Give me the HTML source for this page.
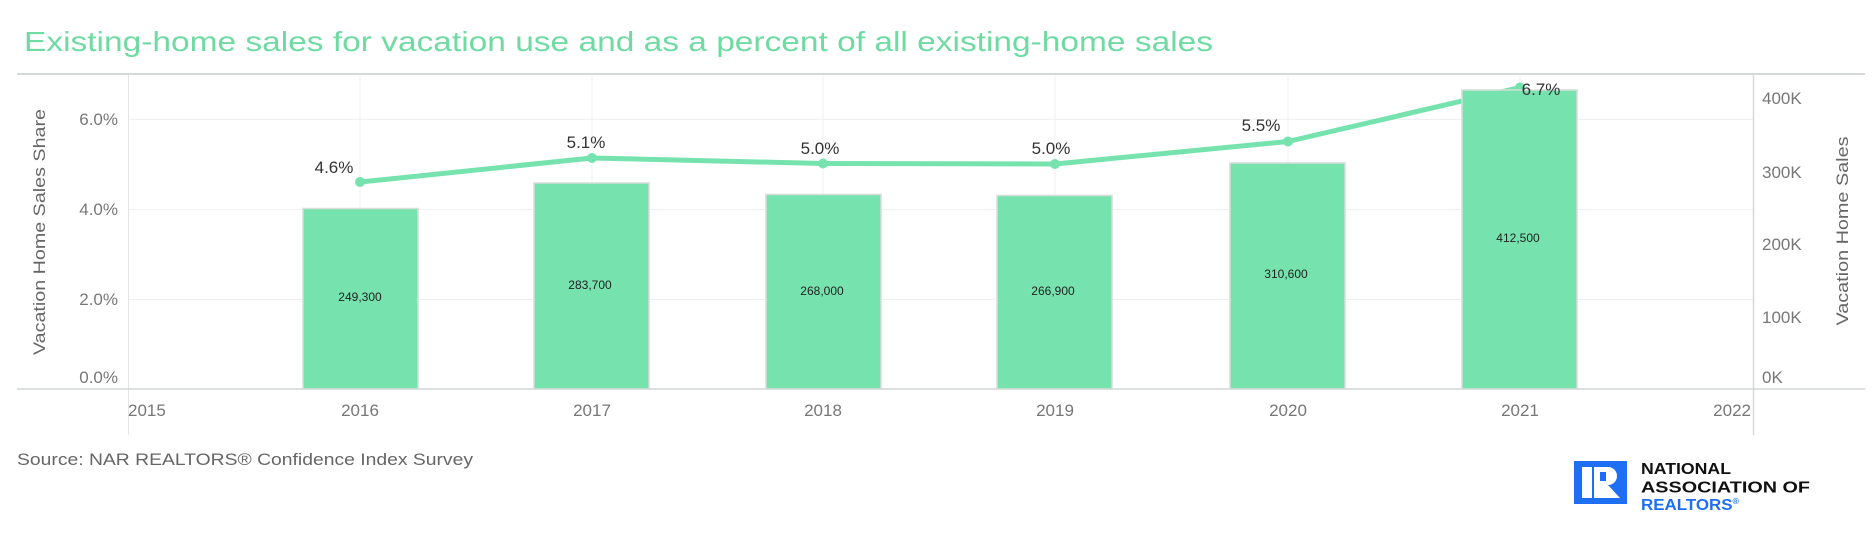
<!DOCTYPE html>
<html><head><meta charset="utf-8"><style>
html,body{margin:0;padding:0;background:#fff;}
svg{display:block;font-family:"Liberation Sans",sans-serif;}
</style></head><body>
<svg width="1876" height="535" viewBox="0 0 1876 535" xmlns="http://www.w3.org/2000/svg">
<rect width="1876" height="535" fill="#fff"/>
<text x="24" y="51" font-size="28" fill="#6fdba3" textLength="1189" lengthAdjust="spacingAndGlyphs">Existing-home sales for vacation use and as a percent of all existing-home sales</text>
<line x1="17" y1="74" x2="1865" y2="74" stroke="#d5d9d9" stroke-width="2"/>
<!-- grid -->
<g stroke="#f0f0f0" stroke-width="1">
<line x1="128" y1="119.5" x2="1753" y2="119.5"/>
<line x1="128" y1="209.5" x2="1753" y2="209.5"/>
<line x1="128" y1="299.5" x2="1753" y2="299.5"/>
<line x1="360" y1="75" x2="360" y2="389"/>
<line x1="592" y1="75" x2="592" y2="389"/>
<line x1="823" y1="75" x2="823" y2="389"/>
<line x1="1055" y1="75" x2="1055" y2="389"/>
<line x1="1288" y1="75" x2="1288" y2="389"/>
<line x1="1520" y1="75" x2="1520" y2="389"/>
</g>
<line x1="128.5" y1="75" x2="128.5" y2="435" stroke="#e2e5e5" stroke-width="1"/>
<line x1="1753.5" y1="75" x2="1753.5" y2="435" stroke="#d5d9d9" stroke-width="1.5"/>
<line x1="17" y1="389" x2="1865" y2="389" stroke="#d0d5d5" stroke-width="1.5"/>
<!-- line series -->
<polyline points="360,182 592,158 823,163.5 1055,164 1288,141.5 1520,87.5" fill="none" stroke="#76e3ae" stroke-width="5" stroke-linejoin="round"/>
<g fill="#76e3ae">
<circle cx="360" cy="182" r="5"/><circle cx="592" cy="158" r="5"/><circle cx="823" cy="163.5" r="5"/><circle cx="1055" cy="164" r="5"/><circle cx="1288" cy="141.5" r="5"/><circle cx="1520" cy="87.5" r="5"/>
</g>
<!-- bars -->
<g fill="#76e3ae" stroke="#d6dcd9" stroke-width="1.5">
<rect x="303" y="208.5" width="115" height="180.5"/>
<rect x="534" y="183" width="115" height="206"/>
<rect x="766" y="194.5" width="115" height="194.5"/>
<rect x="997" y="195.5" width="115" height="193.5"/>
<rect x="1230" y="163" width="115" height="226"/>
<rect x="1462" y="90" width="115" height="299"/>
</g>
<g font-size="12" fill="#222" text-anchor="middle">
<text x="360" y="301">249,300</text>
<text x="590" y="289">283,700</text>
<text x="822" y="295">268,000</text>
<text x="1053" y="295">266,900</text>
<text x="1286" y="278">310,600</text>
<text x="1518" y="242">412,500</text>
</g>
<g font-size="17" fill="#333" text-anchor="middle">
<text x="334" y="173">4.6%</text>
<text x="586" y="148">5.1%</text>
<text x="820" y="154">5.0%</text>
<text x="1051" y="154">5.0%</text>
<text x="1261" y="131">5.5%</text>
<text x="1541" y="95">6.7%</text>
</g>
<!-- left ticks -->
<g font-size="17" fill="#777" text-anchor="end">
<text x="118" y="125">6.0%</text>
<text x="118" y="215">4.0%</text>
<text x="118" y="305">2.0%</text>
<text x="118" y="383">0.0%</text>
</g>
<!-- right ticks -->
<g font-size="17" fill="#777">
<text x="1762" y="104">400K</text>
<text x="1762" y="178">300K</text>
<text x="1762" y="250">200K</text>
<text x="1762" y="323">100K</text>
<text x="1762" y="383">0K</text>
</g>
<!-- x ticks -->
<g font-size="17" fill="#777" text-anchor="middle">
<text x="128" y="416" text-anchor="start">2015</text>
<text x="360" y="416">2016</text>
<text x="592" y="416">2017</text>
<text x="823" y="416">2018</text>
<text x="1055" y="416">2019</text>
<text x="1288" y="416">2020</text>
<text x="1520" y="416">2021</text>
<text x="1751" y="416" text-anchor="end">2022</text>
</g>
<text transform="translate(45,232) rotate(-90)" font-size="17" fill="#666" text-anchor="middle" textLength="246" lengthAdjust="spacingAndGlyphs">Vacation Home Sales Share</text>
<text transform="translate(1848,231) rotate(-90)" font-size="17" fill="#666" text-anchor="middle" textLength="189" lengthAdjust="spacingAndGlyphs">Vacation Home Sales</text>
<text x="17" y="465" font-size="17" fill="#666" textLength="456" lengthAdjust="spacingAndGlyphs">Source: NAR REALTORS® Confidence Index Survey</text>
<!-- logo -->
<rect x="1574" y="461" width="53" height="43" fill="#1e6ff3"/>
<rect x="1582" y="467" width="10" height="31" fill="#fff"/>
<path d="M1594 467 H1608 A9 9 0 0 1 1608 485 L1620 498 H1594 Z" fill="#fff"/>
<rect x="1600" y="472" width="6" height="9" fill="#1e6ff3"/>
<g font-size="15.5" font-weight="bold">
<text x="1641" y="474" fill="#111" textLength="90" lengthAdjust="spacingAndGlyphs">NATIONAL</text>
<text x="1641" y="492.5" fill="#111" textLength="169" lengthAdjust="spacingAndGlyphs">ASSOCIATION OF</text>
<text x="1641" y="510" fill="#1e6ff3" textLength="98" lengthAdjust="spacingAndGlyphs">REALTORS<tspan font-size="8" dy="-6">®</tspan></text>
</g>
</svg>
</body></html>
